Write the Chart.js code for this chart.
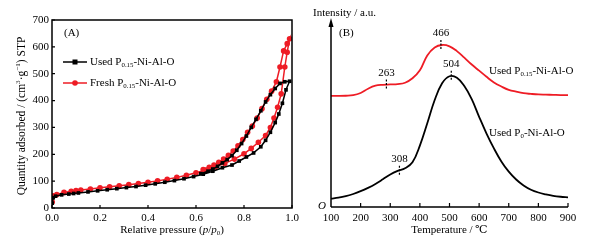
<!DOCTYPE html>
<html>
<head>
<meta charset="utf-8">
<script src="https://cdn.jsdelivr.net/npm/chart.js@4"></script>
<style>
  html, body { margin: 0; padding: 0; background: #fff; }
  #wrap { position: relative; width: 612px; height: 242px; }
  canvas { position: absolute; top: 0; }
</style>
</head>
<body>
<div id="wrap">
  <canvas id="chart-a" width="306" height="242" style="left:0"></canvas>
  <canvas id="chart-b" width="306" height="242" style="left:306px"></canvas>
</div>
<script>
// ---- (A) N2 adsorption-desorption isotherms ----
// relative pressure p/p0 and quantity adsorbed (cm3/g STP)
const usedAdsP = [0.001, 0.005, 0.015, 0.04, 0.07, 0.09, 0.11, 0.15, 0.19, 0.23, 0.27, 0.31, 0.35, 0.39, 0.43, 0.47, 0.51, 0.55, 0.59, 0.63, 0.67, 0.71, 0.75, 0.78, 0.81, 0.84, 0.87, 0.89, 0.91, 0.93, 0.945, 0.96, 0.975, 0.99];
const usedAdsQ = [18, 38, 44, 49, 52, 54, 56, 60, 64, 68, 72, 76, 80, 85, 90, 96, 102, 109, 117, 126, 137, 150, 160, 175, 190, 205, 228, 252, 282, 318, 350, 390, 440, 472];
const usedDesP = [0.97, 0.95, 0.93, 0.91, 0.89, 0.87, 0.85, 0.83, 0.81, 0.79, 0.77, 0.75, 0.73, 0.71, 0.69, 0.67, 0.65, 0.62];
const usedDesQ = [470, 464, 445, 422, 395, 362, 330, 300, 268, 240, 215, 195, 180, 168, 155, 145, 137, 128];

const freshAdsP = [0.001, 0.005, 0.02, 0.05, 0.08, 0.1, 0.12, 0.16, 0.2, 0.24, 0.28, 0.32, 0.36, 0.4, 0.44, 0.48, 0.52, 0.56, 0.6, 0.64, 0.68, 0.72, 0.76, 0.8, 0.83, 0.86, 0.89, 0.91, 0.925, 0.94, 0.955, 0.97, 0.98, 0.99];
const freshAdsQ = [22, 45, 50, 58, 62, 65, 67, 71, 75, 79, 83, 87, 91, 96, 101, 107, 114, 122, 131, 141, 153, 166, 182, 202, 222, 245, 270, 300, 335, 375, 425, 525, 580, 630];
const freshDesP = [0.98, 0.965, 0.95, 0.935, 0.915, 0.895, 0.875, 0.855, 0.835, 0.815, 0.795, 0.775, 0.755, 0.735, 0.715, 0.695, 0.675, 0.655, 0.63];
const freshDesQ = [612, 585, 525, 470, 435, 405, 370, 335, 305, 282, 255, 232, 212, 196, 182, 170, 160, 152, 143];

const pressureTicks = [0, 0.2, 0.4, 0.6, 0.8, 1.0];
const quantityTicks = [0, 100, 200, 300, 400, 500, 600, 700];

// ---- (B) H2-TPR profiles ----
const tempC = [100, 125, 150, 175, 200, 225, 250, 275, 300, 325, 350, 375, 400, 425, 450, 475, 500, 525, 550, 575, 600, 625, 650, 675, 700, 725, 750, 775, 800, 825, 850, 875, 900];
const tprUsedP015 = [59.7, 59.7, 59.8, 60.1, 61.3, 63.6, 65.2, 65.7, 65.9, 66.1, 66.8, 69.2, 73.5, 81.5, 85.8, 87.1, 86.4, 83.8, 80.3, 76.6, 73.3, 70.0, 67.0, 64.8, 63.0, 62.0, 61.2, 60.8, 60.5, 60.4, 60.3, 60.2, 60.2];
const tprUsedP0 = [4.5, 5.0, 5.8, 7.0, 8.5, 10.3, 12.4, 14.9, 17.5, 19.4, 20.8, 24.0, 33.0, 45.0, 57.5, 66.5, 70.3, 69.5, 65.0, 58.0, 48.5, 39.5, 31.5, 24.5, 19.0, 14.8, 11.6, 9.3, 7.8, 6.8, 6.0, 5.5, 5.2];
const tempTicks = [100, 200, 300, 400, 500, 600, 700, 800, 900];

// peak marks: where the dashed mark sits on the curve, and its label
const peakTemps = [287, 471, 331, 506];
const peakLevels = [65.8, 87.1, 19.5, 70.5];
const peakLabels = ['263', '466', '308', '504'];

const SERIF = "'Liberation Serif', 'DejaVu Serif', serif";
const RED = '#ee1c25';
Chart.defaults.font.family = SERIF;
Chart.defaults.font.size = 11;
Chart.defaults.color = '#000';

// text with italic / sub / sup parts
function drawRich(ctx, parts, x, y, size, align) {
  const fontOf = (st) => {
    const small = st === 'sub' || st === 'sup';
    return (st === 'i' ? 'italic ' : '') + (small ? size * 0.62 : size) + 'px ' + SERIF;
  };
  let total = 0;
  const widths = parts.map(([t, st]) => {
    ctx.font = fontOf(st);
    const w = ctx.measureText(t).width;
    total += w;
    return w;
  });
  let cx = align === 'center' ? x - total / 2 : (align === 'right' ? x - total : x);
  ctx.textAlign = 'left';
  ctx.textBaseline = 'middle';
  parts.forEach(([t, st], i) => {
    ctx.font = fontOf(st);
    let dy = 0;
    if (st === 'sub') dy = size * 0.3;
    if (st === 'sup') dy = -size * 0.35;
    ctx.fillText(t, cx, y + dy);
    cx += widths[i];
  });
}

function toPoints(xs, ys) {
  return xs.map((v, i) => ({ x: v, y: ys[i] }));
}

// Panel A decorations: frame, inward ticks, legend, titles
const decorA = {
  id: 'decorA',
  afterDraw(chart) {
    const { ctx, chartArea: a, scales: { x, y } } = chart;
    ctx.save();
    ctx.strokeStyle = '#000';
    ctx.fillStyle = '#000';
    ctx.lineWidth = 1.5;
    ctx.strokeRect(a.left, a.top, a.right - a.left, a.bottom - a.top);

    ctx.lineWidth = 1.2;
    ctx.beginPath();
    quantityTicks.forEach(v => {
      const py = y.getPixelForValue(v);
      ctx.moveTo(a.left, py);
      ctx.lineTo(a.left + 3, py);
    });
    pressureTicks.forEach(v => {
      const px = x.getPixelForValue(v);
      ctx.moveTo(px, a.bottom);
      ctx.lineTo(px, a.bottom - 3);
    });
    ctx.stroke();

    // legend
    const items = [
      { color: '#000', style: 'rect', name: 'Used P', ly: 62 },
      { color: RED, style: 'circle', name: 'Fresh P', ly: 83 }
    ];
    items.forEach(it => {
      ctx.strokeStyle = it.color;
      ctx.fillStyle = it.color;
      ctx.lineWidth = 1.5;
      ctx.beginPath();
      ctx.moveTo(63, it.ly);
      ctx.lineTo(87, it.ly);
      ctx.stroke();
      if (it.style === 'rect') {
        ctx.fillRect(72.5, it.ly - 2.5, 5, 5);
      } else {
        ctx.beginPath();
        ctx.arc(75, it.ly, 2.8, 0, Math.PI * 2);
        ctx.fill();
      }
      ctx.fillStyle = '#000';
      drawRich(ctx, [[it.name, ''], ['0.15', 'sub'], ['-Ni-Al-O', '']], 90, it.ly, 11, 'left');
    });

    ctx.fillStyle = '#000';
    drawRich(ctx, [['(A)', '']], 64, 33, 11, 'left');

    // axis titles
    drawRich(ctx, [['Relative pressure (', ''], ['p', 'i'], ['/', ''], ['p', 'i'], ['0', 'sub'], [')', '']],
      (a.left + a.right) / 2, 230, 11, 'center');
    ctx.translate(22, 116);
    ctx.rotate(-Math.PI / 2);
    drawRich(ctx, [['Quantity adsorbed / (cm', ''], ['3', 'sup'], ['\u00b7g', ''], ['\u22121', 'sup'], [') STP', '']],
      0, 0, 11.5, 'center');
    ctx.restore();
  }
};

new Chart(document.getElementById('chart-a'), {
  type: 'scatter',
  data: {
    datasets: [{
      label: 'Used P0.15-Ni-Al-O',
      data: toPoints(usedAdsP.concat(usedDesP), usedAdsQ.concat(usedDesQ)),
      showLine: true,
      borderColor: '#000',
      backgroundColor: '#000',
      borderWidth: 1.5,
      pointStyle: 'rect',
      pointRadius: 2.6,
      pointBorderWidth: 0,
      order: 0
    }, {
      label: 'Fresh P0.15-Ni-Al-O',
      data: toPoints(freshAdsP.concat(freshDesP), freshAdsQ.concat(freshDesQ)),
      showLine: true,
      borderColor: RED,
      backgroundColor: RED,
      borderWidth: 1.5,
      pointStyle: 'circle',
      pointRadius: 2.8,
      pointBorderWidth: 0,
      order: 1
    }]
  },
  options: {
    responsive: false,
    animation: false,
    layout: { padding: { left: 0, right: 14, top: 20, bottom: 0 } },
    plugins: { legend: { display: false }, tooltip: { enabled: false } },
    scales: {
      x: {
        type: 'linear', min: 0, max: 1,
        afterFit(s) { s.height = 34; },
        afterBuildTicks(s) { s.ticks = pressureTicks.map(v => ({ value: v })); },
        grid: { display: false, drawTicks: false },
        border: { display: false },
        ticks: { padding: 4, callback: v => v.toFixed(1), maxRotation: 0 }
      },
      y: {
        min: 0, max: 700,
        afterFit(s) { s.width = 52; },
        afterBuildTicks(s) { s.ticks = quantityTicks.map(v => ({ value: v })); },
        grid: { display: false, drawTicks: false },
        border: { display: false },
        ticks: { padding: 3 }
      }
    }
  },
  plugins: [decorA]
});

// Panel B decorations: arrow axis, ticks, peak marks, labels
const decorB = {
  id: 'decorB',
  afterDraw(chart) {
    const { ctx, chartArea: a, scales: { x, y } } = chart;
    ctx.save();
    ctx.strokeStyle = '#000';
    ctx.fillStyle = '#000';
    ctx.lineWidth = 1.5;
    ctx.beginPath();
    ctx.moveTo(a.left, a.bottom);
    ctx.lineTo(a.left, 24);
    ctx.moveTo(a.left, a.bottom);
    ctx.lineTo(a.right, a.bottom);
    ctx.stroke();
    ctx.beginPath();
    ctx.moveTo(a.left, 18);
    ctx.lineTo(a.left - 2.5, 27);
    ctx.lineTo(a.left + 2.5, 27);
    ctx.closePath();
    ctx.fill();

    ctx.lineWidth = 1.2;
    ctx.beginPath();
    tempTicks.slice(1).forEach(v => {
      const px = x.getPixelForValue(v);
      ctx.moveTo(px, a.bottom);
      ctx.lineTo(px, a.bottom - 4);
    });
    ctx.stroke();

    // peak marks
    ctx.setLineDash([2, 1.5]);
    ctx.lineWidth = 1.2;
    peakTemps.forEach((t, i) => {
      const px = x.getPixelForValue(t);
      const py = y.getPixelForValue(peakLevels[i]);
      ctx.beginPath();
      ctx.moveTo(px, py - 5);
      ctx.lineTo(px, py + 5);
      ctx.stroke();
      drawRich(ctx, [[peakLabels[i], '']], px, py - 12, 11, 'center');
    });
    ctx.setLineDash([]);

    drawRich(ctx, [['Intensity / a.u.', '']], 7, 13, 11, 'left');
    drawRich(ctx, [['(B)', '']], 33, 33, 11, 'left');
    drawRich(ctx, [['O', 'i']], a.left - 9, a.bottom - 1, 11, 'center');
    drawRich(ctx, [['Used P', ''], ['0.15', 'sub'], ['-Ni-Al-O', '']], 183, 71, 11, 'left');
    drawRich(ctx, [['Used P', ''], ['0', 'sub'], ['-Ni-Al-O', '']], 183, 133, 11, 'left');
    drawRich(ctx, [['Temperature / \u2103', '']], (a.left + a.right) / 2, 230, 11, 'center');
    ctx.restore();
  }
};

new Chart(document.getElementById('chart-b'), {
  type: 'line',
  data: {
    datasets: [{
      label: 'Used P0.15-Ni-Al-O',
      data: toPoints(tempC, tprUsedP015),
      borderColor: RED,
      borderWidth: 1.8,
      pointRadius: 0,
      tension: 0.4,
      fill: false
    }, {
      label: 'Used P0-Ni-Al-O',
      data: toPoints(tempC, tprUsedP0),
      borderColor: '#000',
      borderWidth: 1.8,
      pointRadius: 0,
      tension: 0.4,
      fill: false
    }]
  },
  options: {
    responsive: false,
    animation: false,
    layout: { padding: { left: 25, right: 44, top: 21, bottom: 0 } },
    plugins: { legend: { display: false }, tooltip: { enabled: false } },
    scales: {
      x: {
        type: 'linear', min: 100, max: 900,
        afterFit(s) { s.height = 35; },
        afterBuildTicks(s) { s.ticks = tempTicks.map(v => ({ value: v })); },
        grid: { display: false, drawTicks: false },
        border: { display: false },
        ticks: { padding: 5, maxRotation: 0 }
      },
      y: { display: false, min: 0, max: 100 }
    }
  },
  plugins: [decorB]
});
</script>
</body>
</html>
